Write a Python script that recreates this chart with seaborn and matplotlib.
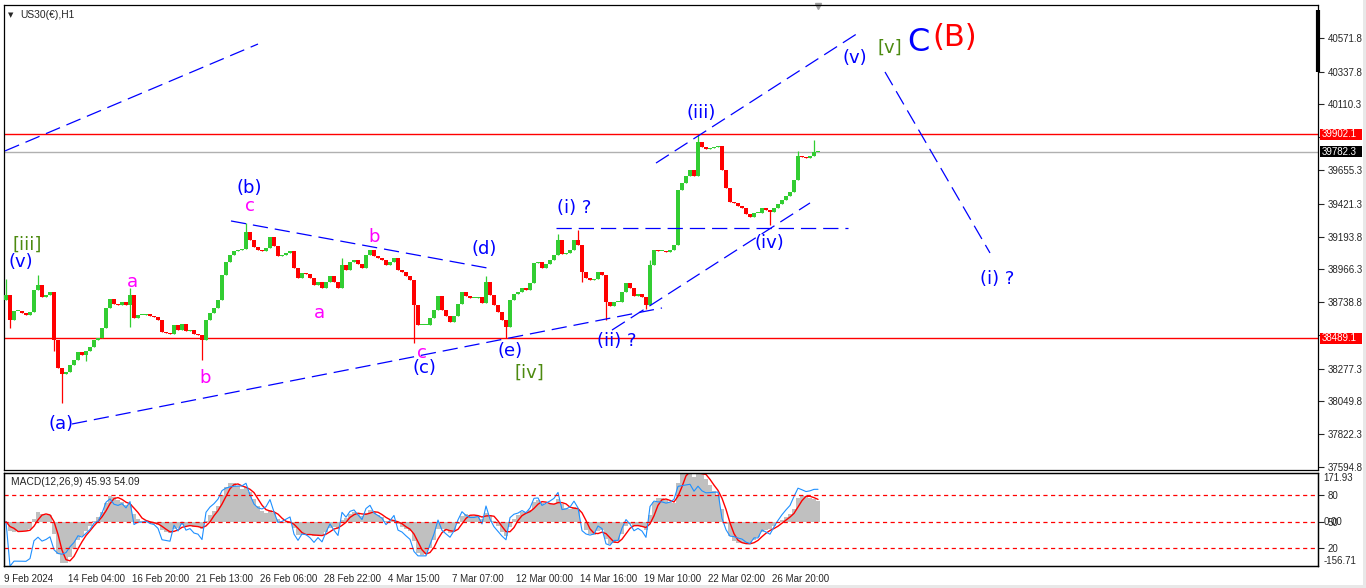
import numpy as np
import pandas as pd
import matplotlib
matplotlib.use("Agg")
import matplotlib.pyplot as plt
from matplotlib.patches import Rectangle
from matplotlib.transforms import blended_transform_factory
import seaborn as sns

# US30 closes, one value every 4 hours (9 Feb .. 28 Mar 2024)
closes = [
    38788, 38615, 38677, 38677, 38663, 38649, 38670, 38823, 38858, 38774,
    38788, 38809, 38476, 38282, 38240, 38254, 38302, 38337, 38393, 38372,
    38400, 38427, 38476, 38490, 38559, 38698, 38760, 38726, 38719, 38740,
    38719, 38788, 38629, 38649, 38649, 38656, 38642, 38636, 38615, 38531,
    38524, 38518, 38580, 38545, 38587, 38538, 38545, 38518, 38511, 38476,
    38615, 38663, 38698, 38753, 38927, 39017, 39066, 39094, 39100, 39107,
    39226, 39170, 39121, 39100, 39094, 39114, 39191, 39128, 39059, 39066,
    39080, 39094, 38976, 38906, 38941, 38934, 38906, 38858, 38878, 38837,
    38878, 38920, 38878, 38837, 38996, 38962, 39017, 39031, 39003, 38976,
    39066, 39100, 39059, 39045, 39031, 38996, 39017, 39045, 38962, 38948,
    38920, 38892, 38719, 38580, 38580, 38580, 38629, 38684, 38781, 38684,
    38642, 38601, 38642, 38726, 38809, 38781, 38767, 38767, 38774, 38733,
    38878, 38788, 38719, 38670, 38615, 38566, 38753, 38795, 38809, 38837,
    38823, 38871, 39010, 39017, 38976, 39003, 39031, 39066, 39170, 39073,
    39080, 39100, 39170, 39135, 38948, 38906, 38892, 38899, 38948, 38927,
    38740, 38712, 38740, 38740, 38809, 38871, 38837, 38781, 38795, 38774,
    38719, 38996, 39100, 39094, 39094, 39087, 39100, 39135, 39517, 39566,
    39614, 39656, 39614, 39850, 39815, 39801, 39808, 39815, 39822, 39656,
    39531, 39434, 39427, 39406, 39392, 39350, 39330, 39357, 39357, 39392,
    39378, 39364, 39392, 39420, 39448, 39475, 39503, 39586, 39753, 39746,
    39739, 39753, 39781, 39782,
]
first_open = 38753

# wicks that stick out past the bodies
spike_high = {0: 38899, 8: 38927, 31: 38837, 60: 39288, 84: 39045, 120: 38920,
              138: 39210, 143: 39239, 161: 39030, 173: 39899, 198: 39790, 202: 39864}
spike_low = {1: 38559, 12: 38400, 14: 38039, 20: 38330, 31: 38566, 49: 38337,
             102: 38455, 125: 38490, 144: 38880, 150: 38615, 160: 38690, 191: 39274}

red_levels = [39902.1, 38489.1]
last_price = 39782.3

price_ticks = [40571.8, 40337.8, 40110.3, 39882.8, 39655.3, 39421.3, 39193.8,
               38966.3, 38738.8, 38511.3, 38277.3, 38049.8, 37822.3, 37594.8]
hidden_ticks = [39882.8, 38511.3]   # sit under the level boxes

date_labels = ["9 Feb 2024", "14 Feb 04:00", "16 Feb 20:00", "21 Feb 13:00",
               "26 Feb 06:00", "28 Feb 22:00", "4 Mar 15:00", "7 Mar 07:00",
               "12 Mar 00:00", "14 Mar 16:00", "19 Mar 10:00", "22 Mar 02:00",
               "26 Mar 20:00"]

# ---------------------------------------------------------------------------
sns.set_style("white")
plt.rcParams["font.family"] = ["Liberation Sans", "DejaVu Sans"]
plt.rcParams["lines.scale_dashes"] = False
FS = 7

W, H = 1366, 588
fig = plt.figure(figsize=(W / 100, H / 100), dpi=100)
ax = fig.add_axes([4 / W, 1 - 470 / H, 1314 / W, 465 / H])
ax2 = fig.add_axes([4 / W, 1 - 566 / H, 1314 / W, 93 / H])

df = pd.DataFrame({"close": closes})
df["open"] = [first_open] + closes[:-1]
df["high"] = df[["open", "close"]].max(axis=1)
df["low"] = df[["open", "close"]].min(axis=1)
for k, v in spike_high.items():
    df.loc[k, "high"] = max(df.loc[k, "high"], v)
for k, v in spike_low.items():
    df.loc[k, "low"] = min(df.loc[k, "low"], v)
df["i"] = np.arange(len(df))
up = df["close"] >= df["open"]
cols = np.where(up, "#32CD32", "#FF0000")

# candles
ax.vlines(df["i"], df["low"], df["high"], colors=cols, lw=0.9, zorder=3)
body = (df["close"] - df["open"]).abs().clip(lower=4)
ax.bar(df["i"], body, bottom=df[["open", "close"]].min(axis=1), width=0.8,
       color=cols, linewidth=0, zorder=3)

ax.set_xlim(-0.5, 328)
ax.set_ylim(37573.7, 40800.8)

for lv in red_levels:
    ax.axhline(lv, color="red", lw=1.0, zorder=2)
ax.axhline(last_price, color="#b0b0b0", lw=1.0, zorder=2)

# wave trend lines
dash = (0, (11, 5))
trend = [((-0.25, 39788), (63, 40530)),
         ((16.5, 37893), (164, 38698)),
         ((56.25, 39302), (120.25, 38976)),
         ((137.5, 39253), (210.5, 39253)),
         ((151.5, 38545), (201, 39427)),
         ((162.5, 39704), (213, 40606)),
         ((219.75, 40336), (246, 39080))]
for (x0, y0), (x1, y1) in trend:
    ax.plot([x0, x1], [y0, y1], color="#0000FF", lw=0.9, ls=dash, zorder=4)

# wave labels
blue, mag, grn = "#0000FF", "#FF00FF", "#4d8a10"
labels = [("[iii]", 5.25, 39135, grn, 13), ("(v)", 3.75, 39017, blue, 13),
          ("(a)", 13.75, 37893, blue, 13), ("a", 31.5, 38878, mag, 13),
          ("b", 49.75, 38212, mag, 13), ("(b)", 60.75, 39531, blue, 13),
          ("c", 61, 39406, mag, 13), ("a", 78.25, 38663, mag, 13),
          ("b", 92, 39191, mag, 13), ("c", 104, 38386, mag, 13),
          ("(c)", 104.5, 38282, blue, 13), ("(d)", 119.5, 39107, blue, 13),
          ("(e)", 126, 38400, blue, 13), ("[iv]", 130.75, 38247, grn, 13),
          ("(i) ?", 142, 39392, blue, 13), ("(ii) ?", 152.75, 38469, blue, 13),
          ("(iii)", 173.75, 40051, blue, 13), ("(iv)", 190.75, 39149, blue, 13),
          ("(v)", 212.25, 40433, blue, 13), ("[v]", 221, 40502, grn, 13),
          ("C", 228, 40544, blue, 23), ("(B)", 237.25, 40572, "#FF0000", 22),
          ("(i) ?", 247.75, 38899, blue, 13)]
for txt, x, y, c, fs in labels:
    ax.text(x, y, txt, color=c, fontsize=fs, ha="center", va="center",
            family="DejaVu Sans", zorder=6)

# right price scale
ax.yaxis.tick_right()
ax.set_yticks(price_ticks)
ax.set_yticklabels(["" if t in hidden_ticks else f"{t:.1f}" for t in price_ticks])
ax.tick_params(axis="y", direction="out", length=4, width=0.8, labelsize=FS, pad=3)
ax.set_xticks([])
tr = blended_transform_factory(ax.transAxes, ax.transData)
bw = 42 / 1314
bh = 11 * (40800.8 - 37573.7) / 465
for lv, bg in [(red_levels[0], "red"), (red_levels[1], "red"), (last_price, "black")]:
    ax.add_patch(Rectangle((1.0015, lv - bh / 2), bw, bh, transform=tr,
                           facecolor=bg, edgecolor="none", clip_on=False, zorder=9))
    ax.text(1.003, lv, f"{lv:.1f}", transform=tr, color="white", fontsize=FS,
            va="center", ha="left", zorder=10)
ax.plot([1, 1], [0.989, 0.856], transform=ax.transAxes, lw=3, color="black",
        clip_on=False, solid_capstyle="butt")
ax.plot([203], [40795], marker="v", color="#a0a0a0", ms=5, clip_on=False)
ax.text(0.003, 0.985, "\u25BC", transform=ax.transAxes, fontsize=5, va="top",
        family="DejaVu Sans")
ax.text(0.012, 0.989, "US30(\u20ac),H1", transform=ax.transAxes, fontsize=7.4, va="top")

# MACD panel
s = df["close"].astype(float)
macd = s.ewm(span=4, adjust=False).mean() - s.ewm(span=9, adjust=False).mean()
signal = macd.rolling(3, min_periods=1).mean()
d = s.diff()
gain = d.clip(lower=0).ewm(alpha=1 / 7, adjust=False).mean()
loss = (-d.clip(upper=0)).ewm(alpha=1 / 7, adjust=False).mean()
rsi = (100 * gain / (gain + loss)).fillna(50)

ax2.bar(df["i"], macd, width=1.0, color="#C0C0C0", linewidth=0)
sns.lineplot(x=df["i"], y=signal, ax=ax2, color="red", lw=1.0)
ax2.set_xlim(-0.5, 328)
ax2.set_ylim(-156.71, 171.93)
ax_r = ax2.twinx()
sns.lineplot(x=df["i"], y=rsi, ax=ax_r, color="#1E90FF", lw=0.8)
ax_r.set_ylim(50 - 0.4768 * 104.5, 50 + 0.5232 * 104.5)
for lv in [80, 50, 20]:
    ax_r.axhline(lv, color="red", lw=0.9, ls=(0, (3, 2.5)))
ax_r.set_yticks([80, 50, 20])
ax_r.set_yticklabels(["80", "50", "20"])
ax_r.tick_params(axis="y", direction="out", length=4, width=0.8, labelsize=FS, pad=3)
ax_r.set_xlabel("")
ax_r.set_ylabel("")
ax2.set_yticks([])
ax2.set_ylabel("")
ax2.set_xlabel("")
ytr = ax2.get_yaxis_transform()
ax2.text(1.004, 171.93, "171.93", transform=ytr, fontsize=FS, va="top")
ax2.text(1.004, 0, "0.00", transform=ytr, fontsize=FS, va="center")
ax2.text(1.004, -156.71, "-156.71", transform=ytr, fontsize=FS, va="bottom")
ax2.text(0.005, 0.96, "MACD(12,26,9) 45.93 54.09", transform=ax2.transAxes,
         fontsize=7.4, va="top")

ax2.set_xticks([-0.5 + 16 * k for k in range(len(date_labels))])
ax2.set_xticklabels(date_labels, ha="left", fontsize=FS)
ax2.tick_params(axis="x", direction="out", length=4, width=0.8, pad=2)

for a in (ax, ax2, ax_r):
    for sp in a.spines.values():
        sp.set_color("black")
        sp.set_linewidth(0.9)

# window border
fig.add_artist(Rectangle((1363 / W, 0), 3 / W, 1, transform=fig.transFigure,
                         facecolor="#e8e8e8", edgecolor="none"))
fig.add_artist(Rectangle((0, 0), 1, 3 / H, transform=fig.transFigure,
                         facecolor="#e8e8e8", edgecolor="none"))

fig.savefig("out.png", dpi=100, facecolor="white")
